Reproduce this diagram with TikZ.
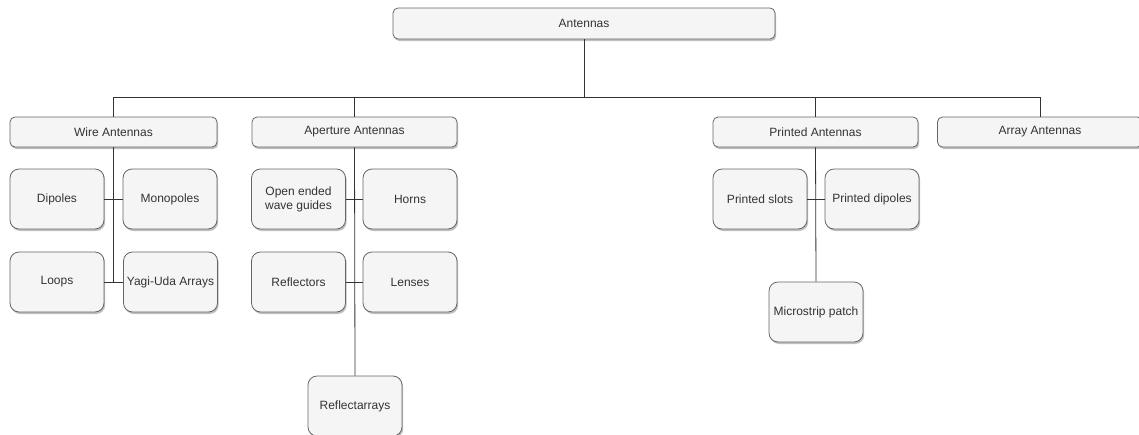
\documentclass[tikz,border=0pt]{standalone}
\usepackage{fontspec}
\setmainfont{Liberation Sans}
\usepackage{tikz}
\usetikzlibrary{shadows}

\definecolor{boxfill}{HTML}{F5F5F5}
\definecolor{boxline}{HTML}{666666}
\definecolor{textgray}{HTML}{333333}

\begin{document}
\begin{tikzpicture}[
    x=1pt, y=-1pt,
    base/.style={rounded corners=5pt, draw=boxline, line width=0.8pt, fill=boxfill, text=textgray, align=center, inner sep=0pt, font=\fontsize{12}{14}\selectfont, drop shadow={shadow xshift=1.2pt, shadow yshift=-2pt, opacity=0.25, fill=black}},
    head/.style={base, minimum width=205pt, minimum height=30pt},
    leaf/.style={base, rounded corners=9pt, minimum width=94pt, minimum height=60pt},
    link/.style={draw=textgray, line width=0.8pt}
]
\useasboundingbox (0,0) rectangle (1139,434);
% root
\node[base, minimum width=382pt, minimum height=31pt] (antennas) at (584,23.5) {Antennas};
% families
\node[head, minimum width=207pt] (wire) at (113.5,132) {Wire Antennas};
\node[head] (aperture) at (354.5,132) {Aperture Antennas};
\node[head] (printed) at (815.5,132) {Printed Antennas};
\node[head] (arrays) at (1040,132) {Array Antennas};
% wire antennas
\node[leaf] (dipoles) at (57,199) {Dipoles};
\node[leaf] (monopoles) at (170,199) {Monopoles};
\node[leaf] (loops) at (57,282) {Loops};
\node[leaf] (yagi) at (170.5,282) {Yagi-Uda Arrays};
% aperture antennas
\node[leaf] (openwg) at (298.5,199) {Open ended\\wave guides};
\node[leaf] (horns) at (410,199) {Horns};
\node[leaf] (reflectors) at (298.5,282) {Reflectors};
\node[leaf] (lenses) at (410,282) {Lenses};
\node[leaf] (reflarr) at (355,406) {Reflectarrays};
% printed antennas
\node[leaf] (slots) at (760,199) {Printed slots};
\node[leaf] (pdipoles) at (872,199) {Printed dipoles};
\node[leaf] (microstrip) at (816,312) {Microstrip patch};

\coordinate (bus) at (0,97);
\draw[link] (antennas.south) -- (antennas.south |- bus);
\draw[link] (wire.north |- bus) -- (arrays.north |- bus);
\foreach \fam in {wire,aperture,printed,arrays}
    \draw[link] (\fam.north) -- (\fam.north |- bus);

\draw[link] (wire.south) |- (loops.east);
\draw[link] (yagi.west) -- (wire.south |- yagi.west);
\draw[link] (dipoles.east) -- (monopoles.west);

\draw[link] (aperture.south) -- (reflarr.north);
\draw[link] (openwg.east) -- (horns.west);
\draw[link] (reflectors.east) -- (lenses.west);

\draw[link] (printed.south) -- (microstrip.north);
\draw[link] (slots.east) -- (pdipoles.west);
\end{tikzpicture}
\end{document}
